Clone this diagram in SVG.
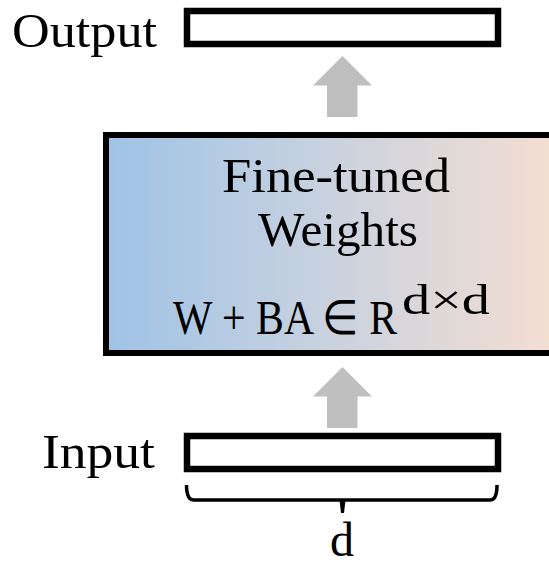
<svg xmlns="http://www.w3.org/2000/svg" width="549" height="563" viewBox="0 0 549 563">
  <defs>
    <linearGradient id="weightsFill" x1="0" y1="0" x2="1" y2="0">
      <stop offset="0" stop-color="#9FC3E6"/>
      <stop offset="0.5" stop-color="#C9D2DF"/>
      <stop offset="1" stop-color="#F4DED2"/>
    </linearGradient>
  </defs>
  <style>
    .lbl { font-family: "Liberation Serif", "Times New Roman", serif; fill: #000; }
    .vec { fill: #fff; stroke: #000; stroke-width: 6.5; }
    .flow { fill: #BFBFBF; }
  </style>

  <rect width="549" height="563" fill="#fff"/>

  <!-- output vector -->
  <g id="output">
    <text class="lbl" x="12" y="47" font-size="49" textLength="145" lengthAdjust="spacingAndGlyphs">Output</text>
    <rect class="vec" x="187" y="11" width="311" height="33"/>
  </g>

  <!-- fine-tuned weight block -->
  <g id="weights">
    <rect x="106" y="135" width="446" height="218" fill="url(#weightsFill)" stroke="#000" stroke-width="6"/>
    <text class="lbl" x="222" y="192" font-size="48" textLength="228" lengthAdjust="spacingAndGlyphs">Fine-tuned</text>
    <text class="lbl" x="258" y="246" font-size="48" textLength="160" lengthAdjust="spacingAndGlyphs">Weights</text>
    <text class="lbl" x="173" y="334" font-size="48">
      <tspan textLength="224" lengthAdjust="spacingAndGlyphs">W + BA ∈ R</tspan><tspan font-size="42" dy="-20" dx="5" textLength="88" lengthAdjust="spacingAndGlyphs">d×d</tspan>
    </text>
  </g>

  <!-- input vector -->
  <g id="input">
    <text class="lbl" x="42" y="468" font-size="49" textLength="113" lengthAdjust="spacingAndGlyphs">Input</text>
    <rect class="vec" x="187" y="436" width="311" height="33"/>
  </g>

  <!-- dimension brace -->
  <g id="dimension">
    <path d="M186.5,485 Q186.5,500 194,500 L490,500 Q497,500 497,485" fill="none" stroke="#000" stroke-width="3.5"/>
    <polygon points="339.5,500 345.5,500 344,513 341,513" fill="#000"/>
    <text class="lbl" x="342" y="556" font-size="48" text-anchor="middle">d</text>
  </g>

  <!-- flow arrows -->
  <g id="connectors">
    <polygon class="flow" points="342.5,56 372,85.5 357.5,85.5 357.5,117 327,117 327,85.5 313,85.5"/>
    <polygon class="flow" points="342.5,367 372,396.5 357.5,396.5 357.5,428 327,428 327,396.5 313,396.5"/>
  </g>
</svg>
